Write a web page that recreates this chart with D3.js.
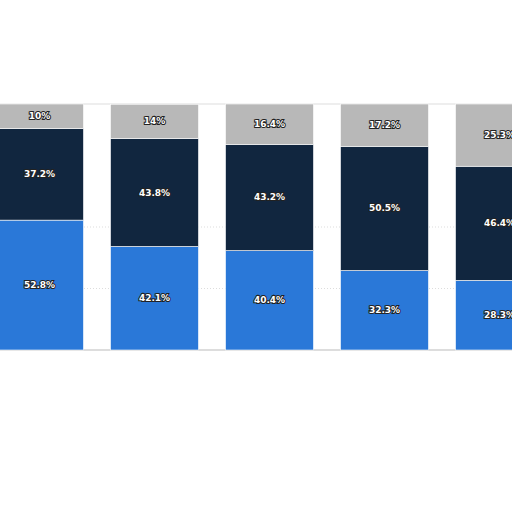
<!DOCTYPE html>
<html><head><meta charset="utf-8">
<script src="https://cdn.jsdelivr.net/npm/d3@7"></script>
<style>body{margin:0;background:#fff}text{font-family:"DejaVu Sans";font-weight:bold;font-size:9px}</style>
</head><body><div id="vis"></div>
<script>
// categories are cropped off in the reference
var categories = ["c1", "c2", "c3", "c4", "c5"];
var lower = [52.8, 42.1, 40.4, 32.3, 28.3];
var middle = [37.2, 43.8, 43.2, 50.5, 46.4];
var upper = [10, 14, 16.4, 17.2, 25.3];
var upperLabels = ["10%", "14%", "16.4%", "17.2%", "25.3%"];

var svg = d3.select("#vis").append("svg").attr("width", 512).attr("height", 512);

var x = d3.scaleBand().domain(categories).range([-18, 557])
  .paddingInner(0.235).paddingOuter(0.1175);
var y = d3.scaleLinear().domain([0, 100]).range([350, 104]);

// plot frame
svg.append("line").attr("x1", 0).attr("x2", 512).attr("y1", 104).attr("y2", 104)
  .style("stroke", "#ddd");
svg.append("line").attr("x1", 0).attr("x2", 512).attr("y1", 350).attr("y2", 350)
  .style("stroke", "#bbb");
[25, 50].forEach(function(t) {
  svg.append("line").attr("x1", 0).attr("x2", 512).attr("y1", y(t)).attr("y2", y(t))
    .style("stroke", "#ddd").style("stroke-dasharray", "1,2");
});

var rows = categories.map(function(c, i) {
  return {cat: c, lower: lower[i], middle: middle[i], upper: upper[i]};
});
var keys = ["lower", "middle", "upper"];
var colors = {lower: "#2a78d8", middle: "#11263f", upper: "#b8b8b8"};
var stack = d3.stack().keys(keys)(rows);

stack.forEach(function(layer) {
  var g = svg.append("g");
  g.selectAll("rect").data(layer).enter().append("rect")
    .attr("x", function(d) { return x(d.data.cat); })
    .attr("width", x.bandwidth())
    .attr("y", function(d) { return y(d[1]); })
    .attr("height", function(d) { return y(d[0]) - y(d[1]); })
    .style("fill", colors[layer.key])
    .style("stroke", "#fff").style("stroke-width", 0.6);
  g.selectAll("text").data(layer).enter().append("text")
    .attr("x", function(d) { return x(d.data.cat) + x.bandwidth() / 2; })
    .attr("y", function(d) { return (y(d[0]) + y(d[1])) / 2 + 3; })
    .attr("text-anchor", "middle")
    .style("fill", "#fff").style("stroke", "#222").style("stroke-width", 2)
    .style("paint-order", "stroke")
    .text(function(d, i) {
      return layer.key == "upper" ? upperLabels[i] : d.data[layer.key] + "%";
    });
});
</script></body></html>
